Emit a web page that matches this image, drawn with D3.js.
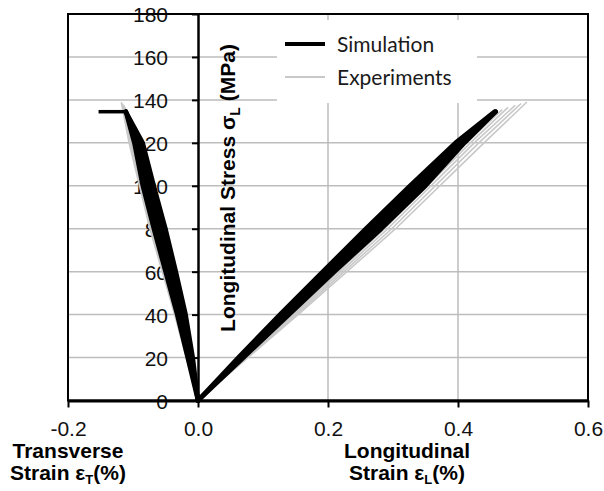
<!DOCTYPE html>
<html>
<head>
<meta charset="utf-8">
<script src="https://cdn.jsdelivr.net/npm/d3@7"></script>
<style>
  html, body { margin: 0; padding: 0; background: #fff; }
  svg { display: block; }
  .tick-label { font-family: "Liberation Sans", Arial, sans-serif; font-size: 21px; fill: #111; }
  .axis-title { font-family: "Liberation Sans", Arial, sans-serif; font-size: 21px; font-weight: bold; fill: #000; }
  .legend-text { font-family: Lato, "Open Sans", sans-serif; font-size: 21px; fill: #1a1a1a; }
</style>
</head>
<body>
<svg id="chart" width="604" height="491"></svg>
<script>
// Axis ticks and gridlines
const xTicks = [-0.2, 0.0, 0.2, 0.4, 0.6];
const yTicks = [0, 20, 40, 60, 80, 100, 120, 140, 160, 180];
const xGridValues = [0.2, 0.4];
const yGridValues = [20, 40, 60, 80, 100, 120, 140, 160];

// Simulation: stress levels (MPa) and strains (%) bounding the band of simulated curves
const simStress = [0, 20, 40, 60, 80, 100, 120, 134.5];
const simLongA = [0, 0.062, 0.126, 0.192, 0.258, 0.326, 0.396, 0.456];
const simLongB = [0, 0.066, 0.133, 0.201, 0.270, 0.338, 0.403, 0.458];
const simLongC = [0, 0.070, 0.140, 0.210, 0.282, 0.350, 0.410, 0.458];
const simTransA = [0, -0.016, -0.032, -0.050, -0.068, -0.085, -0.098, -0.111];
const simTransB = [0, -0.012, -0.026, -0.042, -0.059, -0.077, -0.091, -0.111];
const simTransC = [0, -0.008, -0.019, -0.034, -0.050, -0.068, -0.085, -0.111];
// transverse failure plateau
const simFailureStress = 134.5;
const simFailureStrainT = [-0.111, -0.153];

// Experiments: strain (%) at stress levels 0, 40, 80, 120 MPa and at failure
const expStressLevels = [0, 40, 80, 120];
const expEndStress = [139.0, 138.3, 137.5, 136.5, 135.5, 134.5];
const expLong = [
  [0, 0.154, 0.304, 0.440, 0.506],
  [0, 0.151, 0.298, 0.432, 0.497],
  [0, 0.148, 0.292, 0.425, 0.488],
  [0, 0.145, 0.287, 0.419, 0.477],
  [0, 0.142, 0.282, 0.413, 0.468],
  [0, 0.139, 0.277, 0.408, 0.462]
];
const expTrans = [
  [0, -0.036, -0.074, -0.106, -0.118],
  [0, -0.035, -0.072, -0.104, -0.116],
  [0, -0.034, -0.070, -0.103, -0.114],
  [0, -0.033, -0.068, -0.101, -0.112],
  [0, -0.032, -0.067, -0.100, -0.110],
  [0, -0.031, -0.066, -0.098, -0.108]
];

const legendItems = [
  { label: "Simulation", color: "#000", width: 4 },
  { label: "Experiments", color: "#c8c8c8", width: 2 }
];

const svg = d3.select("#chart");
const x = d3.scaleLinear().domain([-0.2, 0.6]).range([68, 588]);
const y = d3.scaleLinear().domain([0, 180]).range([400.5, 14]);

const line = d3.line().x(d => x(d[0])).y(d => y(d[1]));
const band = d3.area().x0(d => x(d[0])).x1(d => x(d[1])).y(d => y(d[2]));

// Gridlines
const grid = svg.append("g").attr("stroke", "#bdbdbd").attr("stroke-width", 1.5);
grid.selectAll("line.h").data(yGridValues).join("line")
  .attr("x1", x(-0.2)).attr("x2", x(0.6))
  .attr("y1", d => y(d)).attr("y2", d => y(d));
grid.selectAll("line.v").data(xGridValues).join("line")
  .attr("x1", d => x(d)).attr("x2", d => x(d))
  .attr("y1", y(180)).attr("y2", y(0));

// Legend background hides the gridlines behind it
svg.append("rect").attr("x", 277).attr("y", 20).attr("width", 200).attr("height", 83).attr("fill", "#fff");

// Y tick labels (beneath the data lines)
const yLabels = svg.append("g")
  .attr("transform", `translate(${x(0)},0)`)
  .call(d3.axisLeft(y).tickValues(yTicks).tickSize(0).tickPadding(30).tickFormat(d3.format("d")));
yLabels.select(".domain").remove();
yLabels.selectAll("text").attr("class", "tick-label").attr("font-size", 22).attr("font-family", null).attr("fill", null).attr("dy", "0.36em");

// Experiments (grey)
const expG = svg.append("g").attr("fill", "none").attr("stroke", "#c8c8c8").attr("stroke-width", 1.6)
  .attr("stroke-linejoin", "round");
expLong.forEach((strains, i) => {
  const stresses = expStressLevels.concat([expEndStress[i]]);
  expG.append("path").attr("d", line(strains.map((s, k) => [s, stresses[k]])));
});
expTrans.forEach((strains, i) => {
  const stresses = expStressLevels.concat([expEndStress[i]]);
  expG.append("path").attr("d", line(strains.map((s, k) => [s, stresses[k]])));
});

// Simulation (black): filled band between the outer curves, plus the curves themselves
const simG = svg.append("g");
[[simLongA, simLongC], [simTransA, simTransC]].forEach(([lo, hi]) => {
  simG.append("path").attr("fill", "#000")
    .attr("d", band(simStress.map((s, k) => [lo[k], hi[k], s])));
});
const simLines = simG.append("g").attr("fill", "none").attr("stroke", "#000").attr("stroke-width", 4.5)
  .attr("stroke-linejoin", "round").attr("stroke-linecap", "round");
[simLongA, simLongB, simLongC, simTransA, simTransB, simTransC].forEach(strains => {
  simLines.append("path").attr("d", line(strains.map((s, k) => [s, simStress[k]])));
});
simLines.append("path").attr("stroke-width", 3.5).attr("stroke-linecap", "butt")
  .attr("d", line(simFailureStrainT.map(s => [s, simFailureStress])));

// Frame
svg.append("rect")
  .attr("x", x(-0.2)).attr("y", y(180))
  .attr("width", x(0.6) - x(-0.2)).attr("height", y(0) - y(180))
  .attr("fill", "none").attr("stroke", "#000").attr("stroke-width", 2);

// Y axis at zero strain, with ticks
const yAxis = svg.append("g")
  .attr("transform", `translate(${x(0)},0)`)
  .call(d3.axisLeft(y).tickValues(yTicks).tickSize(6).tickSizeOuter(0).tickFormat(""));
yAxis.select(".domain").attr("stroke-width", 2.5);
yAxis.selectAll(".tick line").attr("stroke-width", 2);

// X axis
const xAxis = svg.append("g")
  .attr("transform", `translate(0,${y(0)})`)
  .call(d3.axisBottom(x).tickValues(xTicks).tickSize(7).tickSizeOuter(0).tickPadding(14)
    .tickFormat(d => d.toFixed(1)));
xAxis.select(".domain").attr("stroke-width", 3);
xAxis.selectAll(".tick line").attr("stroke-width", 2);
xAxis.selectAll("text").attr("class", "tick-label").attr("font-size", null).attr("font-family", null).attr("fill", null);

// Axis titles
const yTitle = svg.append("text").attr("class", "axis-title").attr("font-size", 22)
  .attr("text-anchor", "middle")
  .attr("transform", `translate(235,188) rotate(-90)`);
yTitle.append("tspan").text("Longitudinal Stress σ");
yTitle.append("tspan").attr("font-size", 14).attr("dy", 5).text("L");
yTitle.append("tspan").attr("dy", -5).text(" (MPa)");

function strainTitle(cx, firstLine, sub) {
  const t1 = svg.append("text").attr("class", "axis-title").attr("text-anchor", "middle")
    .attr("x", cx).attr("y", 458).text(firstLine);
  const t2 = svg.append("text").attr("class", "axis-title").attr("text-anchor", "middle")
    .attr("x", cx).attr("y", 480);
  t2.append("tspan").text("Strain ε");
  t2.append("tspan").attr("font-size", 13).attr("dy", 4).text(sub);
  t2.append("tspan").attr("dy", -4).text("(%)");
}
strainTitle(68, "Transverse", "T");
strainTitle(407, "Longitudinal", "L");

// Legend
const legend = svg.append("g");
legendItems.forEach((item, i) => {
  const ly = 44 + i * 33;
  legend.append("line").attr("x1", 285).attr("x2", 325).attr("y1", ly).attr("y2", ly)
    .attr("stroke", item.color).attr("stroke-width", item.width);
  legend.append("text").attr("class", "legend-text").attr("x", 337).attr("y", ly + 7.5).text(item.label);
});
</script>
</body>
</html>
